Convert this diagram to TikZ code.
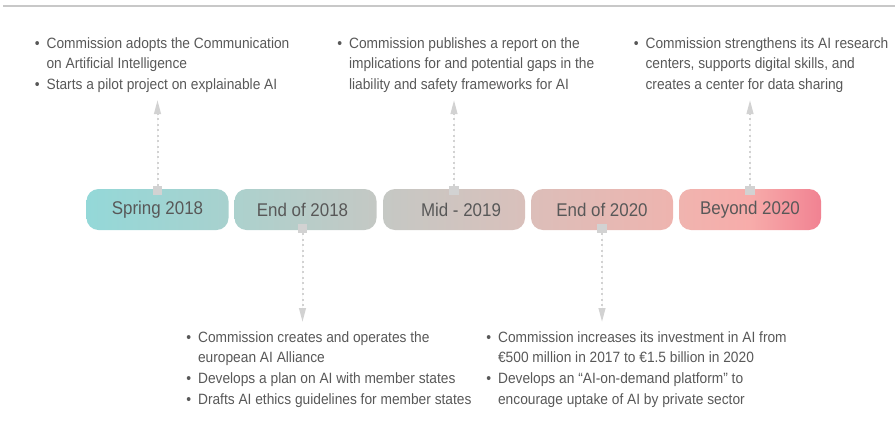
\documentclass[tikz,border=0pt]{standalone}
\usepackage{fontspec}
\setmainfont{Liberation Sans}[FakeStretch=0.92]
\usepackage{tikz}
\usetikzlibrary{arrows.meta}
\definecolor{textgrey}{RGB}{88, 88, 88}
\definecolor{linkgrey}{RGB}{210, 210, 210}
\definecolor{rulegrey}{RGB}{200, 200, 200}
\definecolor{springL}{RGB}{148, 216, 216}
\definecolor{springR}{RGB}{168, 209, 206}
\definecolor{endAL}{RGB}{172, 209, 205}
\definecolor{endAR}{RGB}{196, 200, 196}
\definecolor{midL}{RGB}{197, 200, 196}
\definecolor{midR}{RGB}{217, 192, 187}
\definecolor{endBL}{RGB}{220, 190, 185}
\definecolor{endBR}{RGB}{238, 180, 175}
\definecolor{beyL}{RGB}{240, 180, 175}
\definecolor{beyM}{RGB}{247, 172, 170}
\definecolor{beyR}{RGB}{241, 130, 146}
\newcommand{\notebullet}{\makebox[3pt]{\textbullet}}
\tikzset{
  >=Stealth,
  linkarrow/.style={-{Triangle[length=10.5pt, width=5pt]}, draw=linkgrey, fill=linkgrey, line width=1.5pt, dash pattern=on 1.5pt off 2.6pt}
}

\begin{document}
\begin{tikzpicture}[
    x=0.75pt, y=-0.75pt,
    pill/.style={rectangle, rounded corners=9pt, minimum width=106.5pt, minimum height=30.75pt, inner sep=0pt, font=\fontsize{13.8}{16}\selectfont, text=textgrey},
    marker/.style={rectangle, fill=linkgrey, minimum size=7pt, inner sep=0pt},
    notes/.style={anchor=base west, inner sep=0pt, text=textgrey, font=\fontsize{11.2}{15.6}\selectfont}
]
    % canvas in pixels, 895 x 436
    \useasboundingbox (0, 0) rectangle (895, 436);
    \draw[rulegrey, line width=1.5pt] (3, 6) -- (895, 6);

    % Milestones at y = 209.5, pitch 148
    \node[pill, left color=springL, right color=springR] (p1) at (157.5, 209.5) {Spring 2018};
    \node[pill, left color=endAL, right color=endAR] (p2) at (305.5, 209.5) {End of 2018\hspace*{4.5pt}};
    \node[pill, left color=midL, right color=midR] (p3) at (454, 209.5) {\hspace*{10.5pt}Mid - 2019};
    \node[pill, left color=endBL, right color=endBR] (p4) at (602, 209.5) {End of 2020};
    \node[pill, left color=beyL, right color=beyR, middle color=beyM] (p5) at (750, 209.5) {Beyond 2020};

    % Markers on the pill edges
    \node[marker] (m1) at ([yshift=-1.5pt]p1.north) {};
    \node[marker] (m2) at ([xshift=-2.25pt, yshift=1.5pt]p2.south) {};
    \node[marker] (m3) at ([yshift=-1.5pt]p3.north) {};
    \node[marker] (m4) at ([yshift=1.5pt]p4.south) {};
    \node[marker] (m5) at ([yshift=-1.5pt]p5.north) {};

    % Notes above (first baseline y = 48)
    \node[notes] (n1) at (35, 48) {\begin{tabular}[t]{@{}c@{\hspace{5.5pt}}l@{}}
        \notebullet & Commission adopts the Communication\\
        & on Artificial Intelligence\\
        \notebullet & Starts a pilot project on explainable AI
    \end{tabular}};
    \node[notes] (n3) at (337.5, 48) {\begin{tabular}[t]{@{}c@{\hspace{5.5pt}}l@{}}
        \notebullet & Commission publishes a report on the\\
        & implications for and potential gaps in the\\
        & liability and safety frameworks for AI
    \end{tabular}};
    \node[notes] (n5) at (634, 48) {\begin{tabular}[t]{@{}c@{\hspace{5.5pt}}l@{}}
        \notebullet & Commission strengthens its AI research\\
        & centers, supports digital skills, and\\
        & creates a center for data sharing
    \end{tabular}};

    % Notes below (first baseline y = 342)
    \node[notes] (n2) at (186.5, 342) {\begin{tabular}[t]{@{}c@{\hspace{5.5pt}}l@{}}
        \notebullet & Commission creates and operates the\\
        & european AI Alliance\\
        \notebullet & Develops a plan on AI with member states\\
        \notebullet & Drafts AI ethics guidelines for member states
    \end{tabular}};
    \node[notes] (n4) at (486.5, 342) {\begin{tabular}[t]{@{}c@{\hspace{5.5pt}}l@{}}
        \notebullet & Commission increases its investment in AI from\\
        & €500 million in 2017 to €1.5 billion in 2020\\
        \notebullet & Develops an “AI-on-demand platform” to\\
        & encourage uptake of AI by private sector
    \end{tabular}};

    % Arrow ends
    \coordinate (t1) at (157.5, 100);
    \coordinate (t2) at (302.5, 322);
    \coordinate (t3) at (454, 100);
    \coordinate (t4) at (602, 322);
    \coordinate (t5) at (750, 100);

    % Dotted links
    \draw[linkarrow] (m1.north) -- (t1);
    \draw[linkarrow] (m2.south) -- (t2);
    \draw[linkarrow] (m3.north) -- (t3);
    \draw[linkarrow] (m4.south) -- (t4);
    \draw[linkarrow] (m5.north) -- (t5);
\end{tikzpicture}
\end{document}
